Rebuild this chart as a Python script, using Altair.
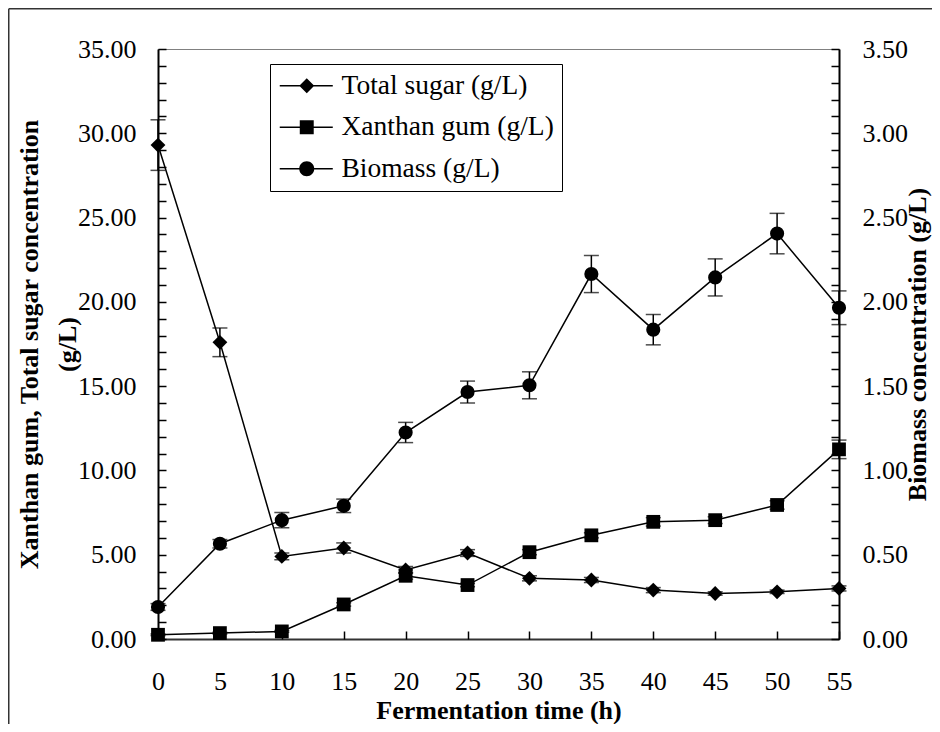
import altair as alt
import pandas as pd

# ---- data ----
time_h = [0, 5, 10, 15, 20, 25, 30, 35, 40, 45, 50, 55]
total_sugar = [29.3, 17.6, 4.9, 5.4, 4.1, 5.1, 3.6, 3.5, 2.9, 2.7, 2.8, 3.0]
total_sugar_err = [1.5, 0.85, 0.2, 0.3, 0.2, 0.2, 0.15, 0.15, 0.15, 0.1, 0.1, 0.15]
xanthan_gum = [0.25, 0.35, 0.45, 2.05, 3.75, 3.2, 5.15, 6.15, 6.95, 7.05, 7.95, 11.25]
xanthan_gum_err = [0.05, 0.05, 0.05, 0.1, 0.2, 0.1, 0.15, 0.15, 0.25, 0.2, 0.25, 0.55]
biomass = [0.19, 0.565, 0.705, 0.79, 1.225, 1.465, 1.505, 2.165, 1.835, 2.145, 2.405, 1.965]
biomass_err = [0.02, 0.025, 0.045, 0.04, 0.06, 0.065, 0.08, 0.11, 0.09, 0.11, 0.12, 0.1]

names = ["Total sugar (g/L)", "Xanthan gum (g/L)", "Biomass (g/L)"]
left_ticks = [0, 5, 10, 15, 20, 25, 30, 35]
left_minor = list(range(0, 36))
right_ticks = [0, 0.5, 1.0, 1.5, 2.0, 2.5, 3.0, 3.5]
right_minor = [round(i * 0.1, 1) for i in range(36)]
x_ticks = list(range(0, 56, 5))

rows = []
for name, vals, errs in zip(names, [total_sugar, xanthan_gum, biomass],
                            [total_sugar_err, xanthan_gum_err, biomass_err]):
    for t, v, e in zip(time_h, vals, errs):
        rows.append({"time": t, "series": name, "value": v, "lo": v - e, "hi": v + e})
df = pd.DataFrame(rows)

W, H = 681, 590
PAD_L, PAD_T, PAD_R, PAD_B = 150, 41, 93, 85
FONT = "Liberation Serif"

xs = alt.Scale(domain=[0, 55], nice=False, zero=False)
ysl = alt.Scale(domain=[0, 35], nice=False, zero=True)
ysr = alt.Scale(domain=[0, 3.5], nice=False, zero=True)


def X(axis=None):
    return alt.X("time:Q", scale=xs, axis=axis)


x_label_axis = alt.Axis(orient="bottom", values=x_ticks, ticks=False, grid=False,
                        domainColor="#333333", domainWidth=2, labelFlush=False,
                        labelFont=FONT, labelFontSize=26, labelColor="black", labelPadding=29,
                        title="Fermentation time (h)", titleFont=FONT, titleFontSize=26,
                        titleFontWeight="bold", titleColor="black", titleBaseline="alphabetic",
                        titleX=W / 2, titleY=79, titleAlign="center")
x_tick_axis = alt.Axis(orient="top", offset=-H, values=x_ticks, labels=False, domain=False,
                       grid=False, tickSize=8, tickColor="black", tickWidth=1.5, title=None)

left_label_axis = alt.Axis(orient="left", values=left_ticks, format=".2f", ticks=False, grid=False,
                           domainColor="black", domainWidth=2,
                           labelFont=FONT, labelFontSize=26, labelColor="black", labelPadding=22,
                           title=["Xanthan gum, Total sugar concentration", "(g/L)"],
                           titleFont=FONT, titleFontSize=26, titleFontWeight="bold",
                           titleColor="black", titleAngle=270, titleBaseline="alphabetic",
                           titleAlign="center", titleX=-121, titleY=H / 2, titleLineHeight=38)
left_tick_axis = alt.Axis(orient="right", offset=-W, values=left_minor, labels=False, domain=False,
                          grid=False, tickSize=8, tickColor="black", tickWidth=1.5, title=None)

right_label_axis = alt.Axis(orient="right", values=right_ticks, format=".2f", ticks=False, grid=False,
                            domainColor="black", domainWidth=2,
                            labelFont=FONT, labelFontSize=26, labelColor="black", labelPadding=23,
                            title="Biomass concentration (g/L)", titleFont=FONT, titleFontSize=26,
                            titleFontWeight="bold", titleColor="black", titleAngle=270,
                            titleBaseline="alphabetic", titleAlign="center", titleX=86, titleY=H / 2)
right_tick_axis = alt.Axis(orient="left", offset=-W, values=right_minor, labels=False, domain=False,
                           grid=False, tickSize=8, tickColor="black", tickWidth=1.5, title=None)

base = alt.Chart(df)
left_base = base.transform_filter(alt.FieldOneOfPredicate(field="series", oneOf=names[:2]))
right_base = base.transform_filter(alt.FieldEqualPredicate(field="series", equal=names[2]))

# error bars
err_l = left_base.mark_rule(color="black", strokeWidth=1.5).encode(
    x=X(), y=alt.Y("lo:Q", scale=ysl, axis=None), y2="hi:Q")
cap_l = left_base.transform_fold(["lo", "hi"], as_=["which", "cap"]).mark_tick(
    orient="horizontal", size=15, thickness=1.5, color="black").encode(
    x=X(), y=alt.Y("cap:Q", scale=ysl, axis=None))
err_r = right_base.mark_rule(color="black", strokeWidth=1.5).encode(
    x=X(), y=alt.Y("lo:Q", scale=ysr, axis=None), y2="hi:Q")
cap_r = right_base.transform_fold(["lo", "hi"], as_=["which", "cap"]).mark_tick(
    orient="horizontal", size=15, thickness=1.5, color="black").encode(
    x=X(), y=alt.Y("cap:Q", scale=ysr, axis=None))

# lines
line_l = left_base.mark_line(color="black", strokeWidth=1.5).encode(
    x=X(x_label_axis), y=alt.Y("value:Q", scale=ysl, axis=left_label_axis), detail="series:N")
line_r = right_base.mark_line(color="black", strokeWidth=1.5).encode(
    x=X(), y=alt.Y("value:Q", scale=ysr, axis=right_label_axis))

# markers
pts_sugar = base.transform_filter(alt.FieldEqualPredicate(field="series", equal=names[0])).mark_point(
    shape="diamond", filled=True, size=220, color="black", opacity=1).encode(
    x=X(x_tick_axis), y=alt.Y("value:Q", scale=ysl, axis=left_tick_axis))
pts_xan = base.transform_filter(alt.FieldEqualPredicate(field="series", equal=names[1])).mark_point(
    shape="square", filled=True, size=190, color="black", opacity=1).encode(
    x=X(), y=alt.Y("value:Q", scale=ysl, axis=None))
pts_bio = right_base.mark_point(shape="circle", filled=True, size=200, color="black", opacity=1).encode(
    x=X(), y=alt.Y("value:Q", scale=ysr, axis=right_tick_axis))

# legend (line + marker symbols); the line is a thin filled bar
c = 2.0
line_part = "M-1.6,-0.1H5.47V0.1H-1.6Z"
legend_paths = [
    f"{line_part}M{c},-1L{c+1},0L{c},1L{c-1},0Z",
    f"{line_part}M{c-0.93},-0.93H{c+0.93}V0.93H{c-0.93}Z",
    f"{line_part}M{c-1},0A1,1,0,1,1,{c+1},0A1,1,0,1,1,{c-1},0Z",
]
legend_layer = base.transform_filter("false").mark_point(
    filled=False, fill="black", stroke="black", strokeWidth=1.5, opacity=1, fillOpacity=1
).encode(
    shape=alt.Shape("series:N", scale=alt.Scale(domain=names, range=legend_paths),
                    legend=alt.Legend(orient="none", legendX=112, legendY=15, title=None,
                                      strokeColor="black", fillColor="white", padding=8,
                                      rowPadding=12.5, symbolSize=225, symbolStrokeWidth=1.5,
                                      symbolStrokeColor="black", symbolFillColor="black",
                                      symbolOpacity=1, labelFont=FONT, labelFontSize=27.5,
                                      labelColor="black", labelOffset=36, labelLimit=500)))

# outer frame of the figure
frame_df = pd.DataFrame({"k": [0]})
frame_top = alt.Chart(frame_df).mark_rule(color="#333333", strokeWidth=1.5).encode(
    x=alt.value(-PAD_L + 0.75), x2=alt.value(W + PAD_R), y=alt.value(-PAD_T + 0.75))
frame_left = alt.Chart(frame_df).mark_rule(color="#333333", strokeWidth=1.5).encode(
    x=alt.value(-PAD_L + 0.75), y=alt.value(-PAD_T + 0.75), y2=alt.value(H + PAD_B))

chart = alt.layer(
    frame_top, frame_left,
    err_l, cap_l, err_r, cap_r,
    line_l, line_r,
    pts_sugar, pts_xan, pts_bio,
    legend_layer,
).resolve_scale(y="independent").resolve_axis(x="independent", y="independent").properties(
    width=W, height=H,
    padding={"left": PAD_L, "top": PAD_T, "right": PAD_R, "bottom": PAD_B},
    autosize=alt.AutoSizeParams(type="none"),
    background="white",
).configure_view(stroke="#808080", strokeWidth=1)

chart.save("out.html", embed_options={"renderer": "svg", "actions": False})
